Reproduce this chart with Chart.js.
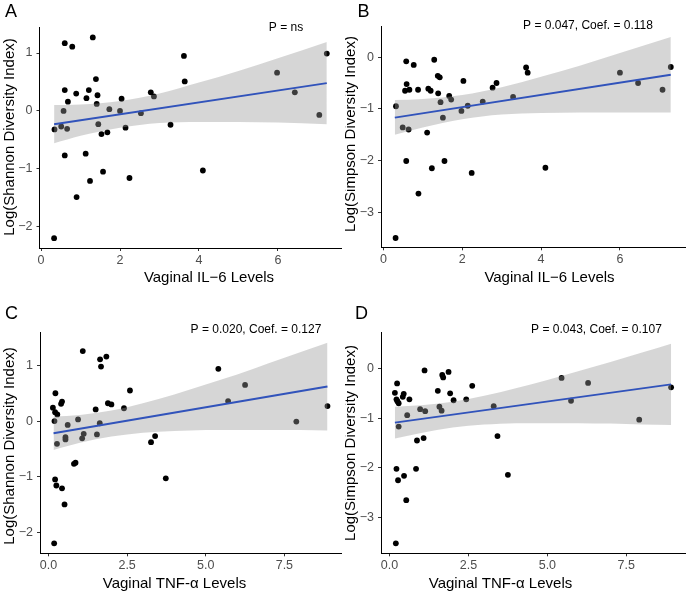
<!DOCTYPE html>
<html>
<head>
<meta charset="utf-8">
<script src="https://cdn.jsdelivr.net/npm/chart.js@4.4.1/dist/chart.umd.min.js"></script>
<style>
  body { margin: 0; background: #fff; }
  #wrap { position: relative; width: 689px; height: 596px; }
  canvas { position: absolute; }
</style>
</head>
<body>
<div id="wrap">
  <canvas id="panelA" width="345" height="290" style="left:0;top:0"></canvas>
  <canvas id="panelB" width="344" height="290" style="left:345px;top:0"></canvas>
  <canvas id="panelC" width="345" height="306" style="left:0;top:290px"></canvas>
  <canvas id="panelD" width="344" height="306" style="left:345px;top:290px"></canvas>
</div>
<script>
// --- data ---
// A: IL-6 vs log Shannon
var il6_A = [0.33,0.34,0.51,0.57,0.60,0.60,0.60,0.66,0.68,0.79,0.89,0.90,1.13,1.15,1.21,1.24,1.31,1.39,1.41,1.43,
             1.45,1.53,1.57,1.68,1.73,2.00,2.04,2.14,2.24,2.53,2.78,2.86,3.28,3.62,3.64,4.10,5.98,6.43,7.05,7.24]
var shannon_A = [-2.20,-0.32,-0.27,0.00,1.17,0.36,-0.77,-0.31,0.16,1.11,0.30,-1.49,-0.74,0.22,0.36,-1.21,1.27,0.55,0.12,0.27,
                 -0.23,-0.40,-1.05,-0.37,0.03,0.00,0.21,-0.29,-1.16,-0.04,0.32,0.25,-0.24,0.95,0.51,-1.03,0.66,0.32,-0.07,0.99]
var fitX_A = [0.33, 7.24]
var fitY_A = [-0.23, 0.48]
var bandX_A = [0.33, 1, 2, 3, 4, 5, 6, 7.24]
var bandHi_A = [0.10, 0.11, 0.17, 0.30, 0.49, 0.69, 0.91, 1.19]
var bandLo_A = [-0.56, -0.43, -0.29, -0.21, -0.19, -0.19, -0.20, -0.23]

// B: IL-6 vs log Simpson
var il6_B = [0.31,0.32,0.49,0.55,0.58,0.59,0.58,0.64,0.66,0.77,0.88,0.89,1.11,1.14,1.20,1.23,1.29,1.38,1.39,1.43,
             1.45,1.51,1.55,1.67,1.72,1.98,2.03,2.14,2.24,2.52,2.77,2.87,3.29,3.62,3.66,4.11,6.00,6.46,7.08,7.29]
var simpson_B = [-3.50,-0.95,-1.36,-0.65,-0.08,-0.52,-2.01,-1.40,-0.63,-0.15,-0.63,-2.64,-1.46,-0.61,-0.65,-2.15,-0.05,-0.36,-0.70,-0.39,
                 -0.87,-1.17,-2.01,-0.75,-0.82,-1.04,-0.46,-0.94,-2.24,-0.86,-0.59,-0.50,-0.77,-0.20,-0.30,-2.14,-0.30,-0.50,-0.63,-0.19]
var fitX_B = [0.29, 7.29]
var fitY_B = [-1.17, -0.34]
var bandX_B = [0.29, 1, 2, 3, 4, 5, 6, 7.29]
var bandHi_B = [-0.83, -0.81, -0.73, -0.58, -0.38, -0.16, 0.08, 0.39]
var bandLo_B = [-1.50, -1.36, -1.20, -1.11, -1.08, -1.07, -1.07, -1.07]

// C: TNF-a vs log Shannon
var tnf_C = [0.18,0.14,0.19,0.21,0.22,0.21,0.25,0.28,0.27,0.40,0.43,0.43,0.51,0.54,0.54,0.61,0.81,0.86,0.94,1.07,
             1.09,1.12,1.50,1.54,1.63,1.64,1.67,1.84,1.89,2.00,2.40,2.59,3.26,3.39,3.73,5.40,5.71,6.25,7.88,8.87]
var shannon_C = [-2.20,0.24,0.00,0.16,0.50,-1.05,-1.16,0.12,-0.41,0.31,0.35,-1.21,-1.50,-0.29,-0.33,-0.07,-0.77,-0.75,0.03,-0.31,
                 1.26,-0.23,0.21,-0.24,-0.04,1.11,0.98,1.16,0.32,0.30,0.23,0.55,-0.38,-0.27,-1.03,0.94,0.36,0.65,-0.01,0.27]
var fitX_C = [0.16, 8.87]
var fitY_C = [-0.22, 0.62]
var bandX_C = [0.16, 1, 2, 3, 4, 5, 6, 7, 8, 8.87]
var bandHi_C = [0.08, 0.11, 0.19, 0.32, 0.48, 0.66, 0.84, 1.04, 1.24, 1.41]
var bandLo_C = [-0.52, -0.39, -0.28, -0.21, -0.18, -0.16, -0.16, -0.16, -0.16, -0.17]

// D: TNF-a vs log Simpson
var tnf_D = [0.20,0.17,0.22,0.24,0.22,0.27,0.25,0.29,0.29,0.42,0.45,0.46,0.53,0.56,0.63,0.84,0.87,0.97,1.08,1.11,
             1.13,1.53,1.58,1.65,1.67,1.70,1.87,1.92,2.03,2.43,2.62,3.30,3.42,3.75,5.45,5.75,6.29,7.91,8.92]
var simpson_D = [-3.52,-0.49,-0.62,-0.30,-2.02,-2.25,-0.66,-0.70,-1.17,-0.57,-0.51,-2.16,-2.65,-0.94,-0.62,-2.02,-1.45,-0.82,-1.40,-0.04,
                 -0.86,-0.45,-0.77,-0.85,-0.13,-0.18,-0.07,-0.50,-0.64,-0.62,-0.35,-0.76,-1.36,-2.14,-0.19,-0.65,-0.29,-1.03,-0.38]
var fitX_D = [0.17, 8.92]
var fitY_D = [-1.09, -0.32]
var bandX_D = [0.17, 1, 2, 3, 4, 5, 6, 7, 8, 8.92]
var bandHi_D = [-0.77, -0.74, -0.67, -0.55, -0.40, -0.23, -0.05, 0.13, 0.32, 0.50]
var bandLo_D = [-1.41, -1.30, -1.19, -1.13, -1.10, -1.10, -1.10, -1.11, -1.13, -1.14]

// tick labels
var il6Ticks = [0, 2, 4, 6]
var tnfTicks = [0, 2.5, 5, 7.5]
var shannonTicks = [-2, -1, 0, 1]
var simpsonTicks = [-3, -2, -1, 0]

var FONT = "'Liberation Sans', Arial, Helvetica, sans-serif"

function pairs(xs, ys) {
	var out = []
	for (var i = 0; i < xs.length; i++) out.push({ x: xs[i], y: ys[i] })
	return out
}

function minus(s) {
	return String(s).replace('-', '\u2212')
}

// draws the panel letter, the stats note and both axis titles
var panelText = {
	id: 'panelText',
	afterDraw: function (chart, args, o) {
		var ctx = chart.ctx
		ctx.save()
		ctx.fillStyle = '#000'
		ctx.textAlign = 'left'
		ctx.textBaseline = 'alphabetic'
		ctx.font = '18px ' + FONT
		ctx.fillText(o.letter, o.letterX, o.letterY)

		ctx.textAlign = 'center'
		ctx.font = '12px ' + FONT
		ctx.fillText(o.note, o.noteX, o.noteY)

		ctx.font = '15px ' + FONT
		ctx.fillText(o.xTitle, o.xTitleX, o.xTitleY)

		ctx.translate(o.yTitleX, o.yTitleY)
		ctx.rotate(-Math.PI / 2)
		ctx.textBaseline = 'middle'
		ctx.fillText(o.yTitle, 0, 0)
		ctx.restore()
	},
}

function makePanel(id, p) {
	var tickFont = { family: FONT, size: 12.5 }
	var grid = { drawOnChartArea: false, drawTicks: true, tickLength: 3, color: '#333', lineWidth: 1 }
	var border = { display: true, color: '#000', width: 1 }

	var datasets = [
		{
			type: 'scatter',
			data: pairs(p.x, p.y),
			backgroundColor: '#000',
			borderWidth: 0,
			pointRadius: 2.9,
			order: 3,
		},
		{
			type: 'line',
			data: pairs(p.bandX, p.bandHi),
			borderWidth: 0,
			pointRadius: 0,
			fill: false,
			cubicInterpolationMode: 'monotone',
			order: 2,
		},
		{
			type: 'line',
			data: pairs(p.bandX, p.bandLo),
			borderWidth: 0,
			pointRadius: 0,
			fill: '-1',
			backgroundColor: 'rgba(153,153,153,0.4)',
			cubicInterpolationMode: 'monotone',
			order: 2,
		},
		{
			type: 'line',
			data: pairs(p.fitX, p.fitY),
			borderColor: '#3153BB',
			borderWidth: 2,
			pointRadius: 0,
			fill: false,
			order: 1,
		},
	]

	return new Chart(document.getElementById(id), {
		type: 'scatter',
		data: { datasets: datasets },
		plugins: [panelText],
		options: {
			responsive: false,
			animation: false,
			events: [],
			layout: { padding: { top: p.padTop, right: p.padRight, left: 0, bottom: 0 } },
			plugins: {
				legend: { display: false },
				tooltip: { enabled: false },
				panelText: p.text,
			},
			scales: {
				x: {
					type: 'linear',
					min: p.xMin,
					max: p.xMax,
					grid: grid,
					border: border,
					ticks: {
						color: '#4d4d4d',
						font: tickFont,
						padding: 2,
						maxRotation: 0,
						autoSkip: false,
						callback: function (v) { return minus(p.xFmt(v)) },
					},
					afterBuildTicks: function (s) { s.ticks = p.xTicks.map(function (v) { return { value: v } }) },
					afterFit: function (s) { s.height = p.xAxisH },
				},
				y: {
					type: 'linear',
					min: p.yMin,
					max: p.yMax,
					grid: grid,
					border: border,
					ticks: {
						color: '#4d4d4d',
						font: tickFont,
						padding: 4,
						callback: function (v) { return minus(v) },
					},
					afterBuildTicks: function (s) { s.ticks = p.yTicks.map(function (v) { return { value: v } }) },
					afterFit: function (s) { s.width = p.yAxisW },
				},
			},
		},
	})
}

function intFmt(v) { return String(v) }
function oneDec(v) { return v.toFixed(1) }

makePanel('panelA', {
	x: il6_A, y: shannon_A, fitX: fitX_A, fitY: fitY_A, bandX: bandX_A, bandHi: bandHi_A, bandLo: bandLo_A,
	xMin: -0.04, xMax: 7.6, yMin: -2.37, yMax: 1.45, xTicks: il6Ticks, yTicks: shannonTicks, xFmt: intFmt,
	padTop: 27, padRight: 1.5, yAxisW: 39.5, xAxisH: 42,
	text: {
		letter: 'A', letterX: 5, letterY: 17,
		note: 'P = ns', noteX: 286, noteY: 30.5,
		xTitle: 'Vaginal IL\u22126 Levels', xTitleX: 209, xTitleY: 282,
		yTitle: 'Log(Shannon Diversity Index)', yTitleX: 9.5, yTitleY: 137,
	},
})

makePanel('panelB', {
	x: il6_B, y: simpson_B, fitX: fitX_B, fitY: fitY_B, bandX: bandX_B, bandHi: bandHi_B, bandLo: bandLo_B,
	xMin: -0.06, xMax: 7.65, yMin: -3.68, yMax: 0.59, xTicks: il6Ticks, yTicks: simpsonTicks, xFmt: intFmt,
	padTop: 26.7, padRight: 2.3, yAxisW: 36, xAxisH: 42.7,
	text: {
		letter: 'B', letterX: 12.5, letterY: 17,
		note: 'P = 0.047, Coef. = 0.118', noteX: 243, noteY: 29,
		xTitle: 'Vaginal IL\u22126 Levels', xTitleX: 204.5, xTitleY: 282,
		yTitle: 'Log(Simpson Diversity Index)', yTitleX: 6, yTitleY: 134,
	},
})

makePanel('panelC', {
	x: tnf_C, y: shannon_C, fitX: fitX_C, fitY: fitY_C, bandX: bandX_C, bandHi: bandHi_C, bandLo: bandLo_C,
	xMin: -0.27, xMax: 9.3, yMin: -2.38, yMax: 1.59, xTicks: tnfTicks, yTicks: shannonTicks, xFmt: oneDec,
	padTop: 42.7, padRight: 1.7, yAxisW: 40, xAxisH: 42.7,
	text: {
		letter: 'C', letterX: 5, letterY: 28.5,
		note: 'P = 0.020, Coef. = 0.127', noteX: 256, noteY: 42.5,
		xTitle: 'Vaginal TNF-\u03b1 Levels', xTitleX: 174.5, xTitleY: 297.5,
		yTitle: 'Log(Shannon Diversity Index)', yTitleX: 9.5, yTitleY: 156,
	},
})

makePanel('panelD', {
	x: tnf_D, y: simpson_D, fitX: fitX_D, fitY: fitY_D, bandX: bandX_D, bandHi: bandHi_D, bandLo: bandLo_D,
	xMin: -0.27, xMax: 9.36, yMin: -3.72, yMax: 0.72, xTicks: tnfTicks, yTicks: simpsonTicks, xFmt: oneDec,
	padTop: 42.7, padRight: 2.3, yAxisW: 36, xAxisH: 42.7,
	text: {
		letter: 'D', letterX: 10, letterY: 28.5,
		note: 'P = 0.043, Coef. = 0.107', noteX: 251.5, noteY: 42.5,
		xTitle: 'Vaginal TNF-\u03b1 Levels', xTitleX: 155.5, xTitleY: 297.5,
		yTitle: 'Log(Simpson Diversity Index)', yTitleX: 6, yTitleY: 153,
	},
})
</script>
</body>
</html>
